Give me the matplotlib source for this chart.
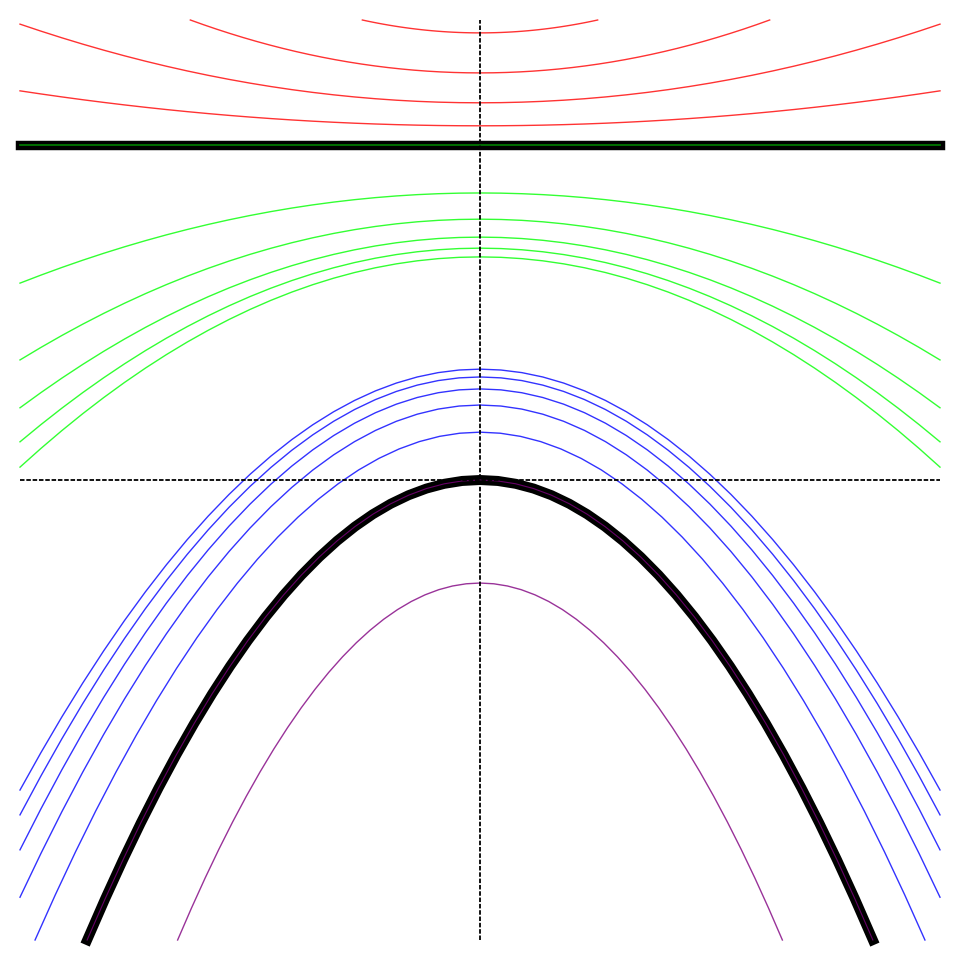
import numpy as np
import matplotlib
matplotlib.use('Agg')
import matplotlib.pyplot as plt

# each curve is a parabola: value at x=0 and value at x=+-1
# (box is [-1, 1] in both directions)
red_apex = [0.972, 0.885, 0.820, 0.770]
red_edge = [1.40, 1.175, 0.991, 0.846]

level_line = 0.728  # thick black horizontal line

green_apex = [0.624, 0.567, 0.528, 0.504, 0.485]
green_edge = [0.428, 0.261, 0.157, 0.083, 0.028]

blue_apex = [0.241, 0.224, 0.198, 0.163, 0.104]
blue_edge = [-0.674, -0.728, -0.804, -0.907, -1.076]

black_apex, black_edge = 0.0, -1.371
purple_apex, purple_edge = -0.224, -2.02


def parabola(apex, edge, n=45):
    """Sample y = apex + (edge - apex) x^2, kept inside the unit box."""
    b = edge - apex
    lim = 1.0
    if b > 0 and edge > 1:
        lim = np.sqrt((1 - apex) / b)
    elif b < 0 and edge < -1:
        lim = np.sqrt((-1 - apex) / b)
    x = np.linspace(-lim, lim, n)
    return x, apex + b * x ** 2


fig = plt.figure(figsize=(9.6, 9.6), dpi=100)
ax = fig.add_axes([0, 0, 1, 1])
pad = 20 / 460
ax.set_xlim(-1 - pad, 1 + pad)
ax.set_ylim(-1 - pad, 1 + pad)
ax.axis('off')

for a, e in zip(red_apex, red_edge):
    ax.plot(*parabola(a, e), color='red', lw=1.0, alpha=0.8)

ax.plot([-1, 1], [level_line, level_line], color='black', lw=6.8,
        solid_capstyle='projecting')
ax.plot([-1, 1], [level_line, level_line], color='green', lw=1.2)

for a, e in zip(green_apex, green_edge):
    ax.plot(*parabola(a, e), color='lime', lw=1.0, alpha=0.8)

for a, e in zip(blue_apex, blue_edge):
    ax.plot(*parabola(a, e), color='blue', lw=1.0, alpha=0.8)

bx, by = parabola(black_apex, black_edge)
ax.plot(bx, by, color='black', lw=7.2, solid_capstyle='projecting')
ax.plot(bx, by, color='purple', lw=0.8, alpha=0.8)

ax.plot(*parabola(purple_apex, purple_edge), color='purple', lw=1.0, alpha=0.8)

# dashed axes through the origin
ax.plot([0, 0], [-1, 1], color='black', lw=1.3, dashes=(2.5, 1), zorder=5)
ax.plot([-1, 1], [0, 0], color='black', lw=1.3, dashes=(2.5, 1), zorder=5)

fig.savefig('out.png', dpi=100)
